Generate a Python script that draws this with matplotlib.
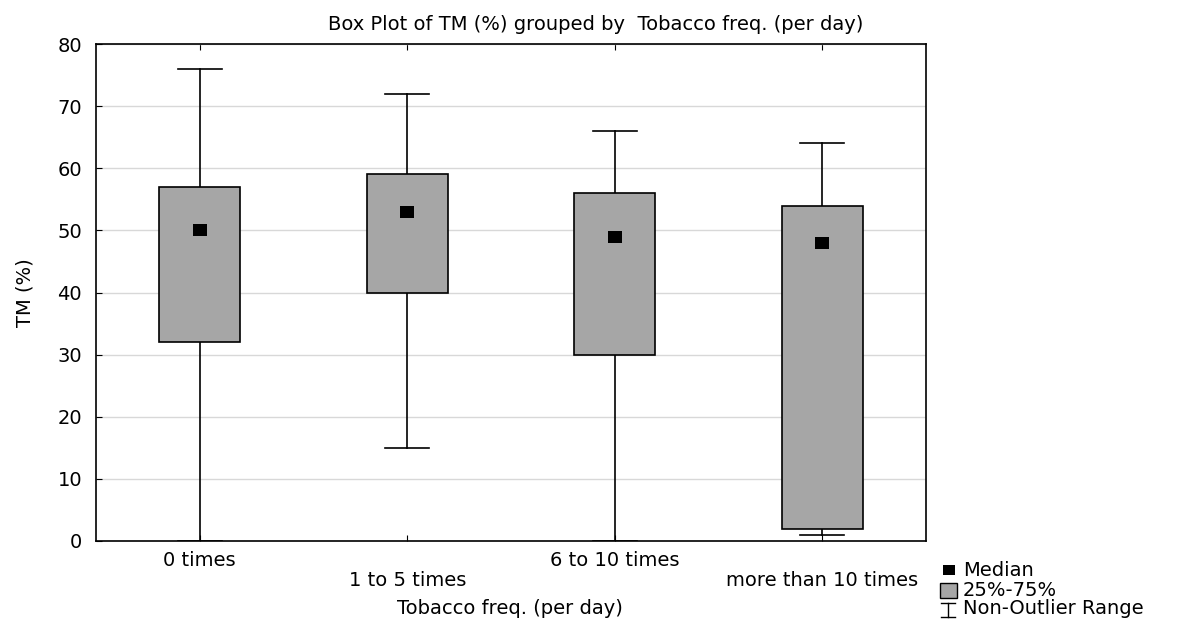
import matplotlib.pyplot as plt
from matplotlib.patches import Rectangle
from matplotlib.lines import Line2D

plt.rcParams['font.family'] = ['DejaVu Sans']

# data
categories = ['0 times', '1 to 5 times', '6 to 10 times', 'more than 10 times']
medians = [50, 53, 49, 48]
q1 = [32, 40, 30, 2]
q3 = [57, 59, 56, 54]
whisk_lo = [0, 15, 0, 1]
whisk_hi = [76, 72, 66, 64]

box_color = '#a6a6a6'
fs = 14

W, H = 1178, 621
fig = plt.figure(figsize=(W / 100, H / 100), dpi=100)
ax = fig.add_axes([96 / W, 1 - 541 / H, (926 - 96) / W, (541 - 44) / H])

box_w = 0.39
cap_w = 0.21
med_marker = [(-1.25, -1), (1.25, -1), (1.25, 1), (-1.25, 1), (-1.25, -1)]
for i in range(len(categories)):
    ax.plot([i, i], [whisk_lo[i], q1[i]], color='black', lw=1.2, zorder=2)
    ax.plot([i, i], [q3[i], whisk_hi[i]], color='black', lw=1.2, zorder=2)
    ax.plot([i - cap_w / 2, i + cap_w / 2], [whisk_hi[i]] * 2, color='black', lw=1.2, zorder=2)
    ax.plot([i - cap_w / 2, i + cap_w / 2], [whisk_lo[i]] * 2, color='black', lw=1.2, zorder=2)
    ax.add_patch(Rectangle((i - box_w / 2, q1[i]), box_w, q3[i] - q1[i],
                           facecolor=box_color, edgecolor='black', lw=1.2, zorder=3))
    ax.plot(i, medians[i], marker=med_marker, color='black', markersize=10,
            markeredgewidth=0, zorder=4)

ax.set_xlim(-0.5, 3.5)
ax.set_ylim(0, 80)
ax.set_yticks(range(0, 81, 10))
ax.yaxis.grid(True, color='#d8d8d8', lw=1)
ax.set_axisbelow(True)
ax.set_xticks(range(len(categories)))
ax.set_xticklabels([''] * len(categories))
ax.tick_params(direction='in', length=4, top=True, labelsize=fs, colors='black')
ax.tick_params(axis='y', pad=10)
for s in ax.spines.values():
    s.set_linewidth(1.2)

# staggered category labels
for i, c in enumerate(categories):
    off = 19 if i % 2 == 0 else 39
    ax.annotate(c, xy=(i, 0), xycoords='data', xytext=(0, -off), textcoords='offset pixels',
                ha='center', va='center', fontsize=fs)

fig.text(596 / W, 1 - 24 / H, 'Box Plot of TM (%) grouped by  Tobacco freq. (per day)',
         ha='center', va='center', fontsize=fs)
fig.text(510 / W, 1 - 608 / H, 'Tobacco freq. (per day)', ha='center', va='center', fontsize=fs)
fig.text(25 / W, 1 - 293 / H, 'TM (%)', ha='center', va='center', fontsize=fs, rotation=90)


# legend drawn in pixel coordinates
def fx(x):
    return x / W


def fy(y):
    return 1 - y / H


fig.add_artist(Rectangle((fx(943), fy(575)), 12 / W, 10 / H, facecolor='black', edgecolor='none'))
fig.add_artist(Rectangle((fx(940), fy(598)), 17 / W, 15 / H, facecolor=box_color, edgecolor='black', lw=1))
fig.add_artist(Line2D([fx(948), fx(948)], [fy(603), fy(617)], color='black', lw=1))
fig.add_artist(Line2D([fx(941), fx(955)], [fy(603), fy(603)], color='black', lw=1))
fig.add_artist(Line2D([fx(941), fx(955)], [fy(617), fy(617)], color='black', lw=1))
for y, t in zip([570, 590, 609], ['Median', '25%-75%', 'Non-Outlier Range']):
    fig.text(fx(963), fy(y), t, ha='left', va='center', fontsize=fs)

plt.savefig('out.png', dpi=100)
plt.close(fig)
